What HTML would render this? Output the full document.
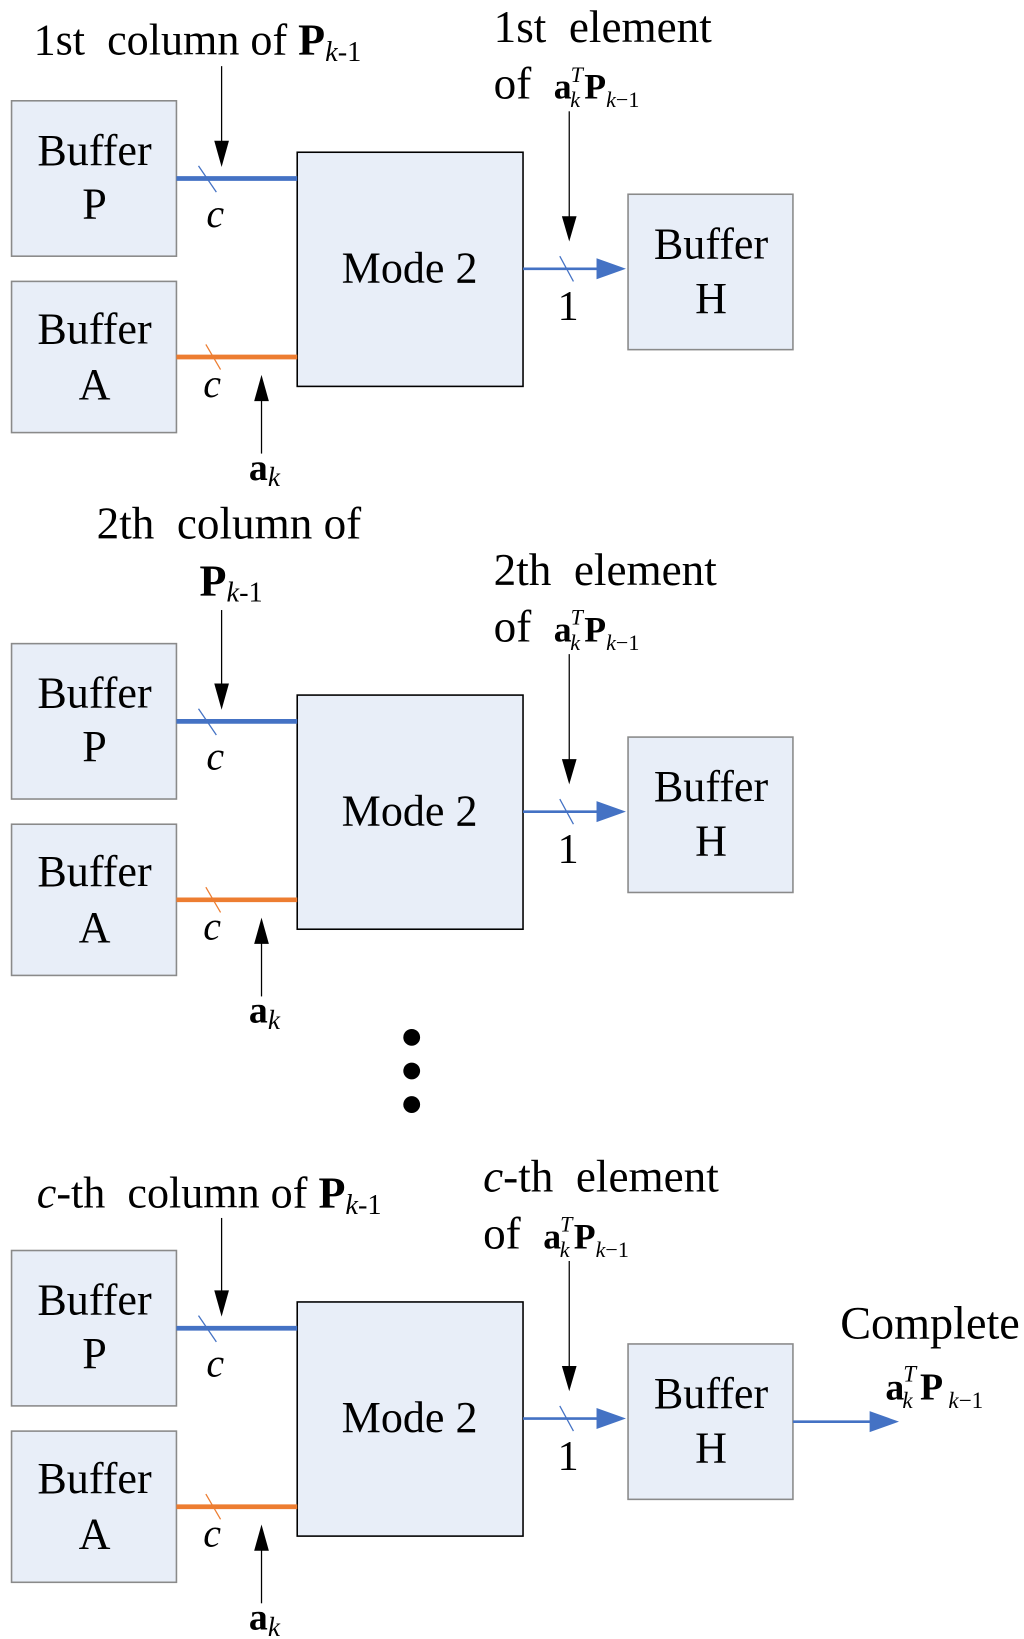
<!DOCTYPE html>
<html><head><meta charset="utf-8"><style>
html,body{margin:0;padding:0;background:#fff}
svg{display:block}
text{font-family:"Liberation Serif",serif;fill:#000}
</style></head><body>
<svg width="1024" height="1639" viewBox="0 0 975 1561" preserveAspectRatio="none" xmlns="http://www.w3.org/2000/svg">
<defs>
<g id="blk">
  <rect x="11" y="96" width="157" height="148" fill="#e8eef8" stroke="#8a8a8a" stroke-width="1.5"/>
  <rect x="11" y="268" width="157" height="144" fill="#e8eef8" stroke="#8a8a8a" stroke-width="1.5"/>
  <rect x="283" y="145" width="215" height="223" fill="#e8eef8" stroke="#000" stroke-width="1.5"/>
  <rect x="598" y="185" width="157" height="148" fill="#e8eef8" stroke="#8a8a8a" stroke-width="1.5"/>
  <text x="90" y="157" font-size="42" text-anchor="middle">Buffer</text>
  <text x="90" y="208" font-size="42" text-anchor="middle">P</text>
  <text x="90" y="327" font-size="42" text-anchor="middle">Buffer</text>
  <text x="90" y="380" font-size="42" text-anchor="middle">A</text>
  <text x="390" y="269" font-size="42" text-anchor="middle">Mode 2</text>
  <text x="677" y="246" font-size="42" text-anchor="middle">Buffer</text>
  <text x="677" y="298" font-size="42" text-anchor="middle">H</text>
  <line x1="168" y1="170" x2="283" y2="170" stroke="#4472c4" stroke-width="4.5"/>
  <line x1="189" y1="158" x2="206" y2="183" stroke="#4472c4" stroke-width="1.2"/>
  <line x1="168" y1="340" x2="283" y2="340" stroke="#ed7d31" stroke-width="4.5"/>
  <line x1="196" y1="328" x2="210" y2="352" stroke="#ed7d31" stroke-width="1.2"/>
  <text x="205" y="216" font-size="38" font-style="italic" text-anchor="middle">c</text>
  <text x="202" y="378" font-size="38" font-style="italic" text-anchor="middle">c</text>
  <line x1="498" y1="256" x2="572" y2="256" stroke="#4472c4" stroke-width="2.5"/>
  <polygon points="568,246 596,256 568,266" fill="#4472c4"/>
  <line x1="533" y1="244" x2="546" y2="268" stroke="#4472c4" stroke-width="1.2"/>
  <text x="541" y="305" font-size="40" text-anchor="middle">1</text>
  <line x1="249" y1="432" x2="249" y2="378" stroke="#000" stroke-width="1.2"/>
  <polygon points="242,382 249,357 256,382" fill="#000"/>
  <text x="237" y="457" font-size="36" font-weight="bold">a<tspan font-weight="normal" font-style="italic" font-size="26" dy="6">k</tspan></text>
</g>
</defs>

<!-- Section 1 -->
<use href="#blk"/>
<line x1="211" y1="63" x2="211" y2="138" stroke="#000" stroke-width="1.2"/>
<polygon points="204,134 211,159 218,134" fill="#000"/>
<line x1="542" y1="106" x2="542" y2="210" stroke="#000" stroke-width="1.2"/>
<polygon points="535,206 542,230 549,206" fill="#000"/>
<text x="32" y="52" font-size="42" xml:space="preserve">1st  column of <tspan font-weight="bold">P</tspan><tspan font-style="italic" font-size="27" dy="6">k</tspan><tspan font-size="27">-1</tspan></text>
<text x="470" y="40" font-size="43" xml:space="preserve">1st  element</text>
<text x="470" y="94" font-size="43" xml:space="preserve">of  <tspan font-weight="bold" font-size="34">a</tspan><tspan font-style="italic" font-size="21" dx="-1" dy="-16">T</tspan><tspan font-style="italic" font-size="21" dx="-12" dy="24">k</tspan><tspan font-weight="bold" font-size="34" dx="4" dy="-8">P</tspan><tspan font-style="italic" font-size="21" dy="8">k</tspan><tspan font-size="21">−1</tspan></text>

<!-- Section 2 -->
<g transform="translate(0,517)">
<use href="#blk"/>
<line x1="211" y1="64" x2="211" y2="138" stroke="#000" stroke-width="1.2"/>
<polygon points="204,134 211,159 218,134" fill="#000"/>
<line x1="542" y1="106" x2="542" y2="210" stroke="#000" stroke-width="1.2"/>
<polygon points="535,206 542,230 549,206" fill="#000"/>
</g>
<text x="92" y="513" font-size="43" xml:space="preserve">2th  column of</text>
<text x="190" y="567" font-size="42" font-weight="bold">P<tspan font-weight="normal" font-style="italic" font-size="27" dy="6">k</tspan><tspan font-weight="normal" font-size="27">-1</tspan></text>
<text x="470" y="557" font-size="43" xml:space="preserve">2th  element</text>
<text x="470" y="611" font-size="43" xml:space="preserve">of  <tspan font-weight="bold" font-size="34">a</tspan><tspan font-style="italic" font-size="21" dx="-1" dy="-16">T</tspan><tspan font-style="italic" font-size="21" dx="-12" dy="24">k</tspan><tspan font-weight="bold" font-size="34" dx="4" dy="-8">P</tspan><tspan font-style="italic" font-size="21" dy="8">k</tspan><tspan font-size="21">−1</tspan></text>

<!-- dots -->
<circle cx="392" cy="988" r="8" fill="#000"/>
<circle cx="392" cy="1020" r="8" fill="#000"/>
<circle cx="392" cy="1052" r="8" fill="#000"/>

<!-- Section 3 -->
<g transform="translate(0,1095)">
<use href="#blk"/>
<line x1="211" y1="65" x2="211" y2="138" stroke="#000" stroke-width="1.2"/>
<polygon points="204,134 211,159 218,134" fill="#000"/>
<line x1="542" y1="106" x2="542" y2="210" stroke="#000" stroke-width="1.2"/>
<polygon points="535,206 542,230 549,206" fill="#000"/>
<line x1="755" y1="259" x2="832" y2="259" stroke="#4472c4" stroke-width="2.5"/>
<polygon points="828,249 856,259 828,269" fill="#4472c4"/>
</g>
<text x="35" y="1150" font-size="42" xml:space="preserve"><tspan font-style="italic">c</tspan>-th  column of <tspan font-weight="bold">P</tspan><tspan font-style="italic" font-size="27" dy="6">k</tspan><tspan font-size="27">-1</tspan></text>
<text x="460" y="1135" font-size="43" xml:space="preserve"><tspan font-style="italic">c</tspan>-th  element</text>
<text x="460" y="1189" font-size="43" xml:space="preserve">of  <tspan font-weight="bold" font-size="34">a</tspan><tspan font-style="italic" font-size="21" dx="-1" dy="-16">T</tspan><tspan font-style="italic" font-size="21" dx="-12" dy="24">k</tspan><tspan font-weight="bold" font-size="34" dx="4" dy="-8">P</tspan><tspan font-style="italic" font-size="21" dy="8">k</tspan><tspan font-size="21">−1</tspan></text>
<text x="800" y="1275" font-size="44">Complete</text>
<text x="843" y="1333" font-size="40"><tspan font-weight="bold" font-size="36">a</tspan><tspan font-style="italic" font-size="22" dx="-1" dy="-17">T</tspan><tspan font-style="italic" font-size="22" dx="-13" dy="25">k</tspan><tspan font-weight="bold" font-size="36" dx="7" dy="-8">P</tspan><tspan font-style="italic" font-size="22" dy="8" dx="5">k</tspan><tspan font-size="22">−1</tspan></text>
</svg>
</body></html>
